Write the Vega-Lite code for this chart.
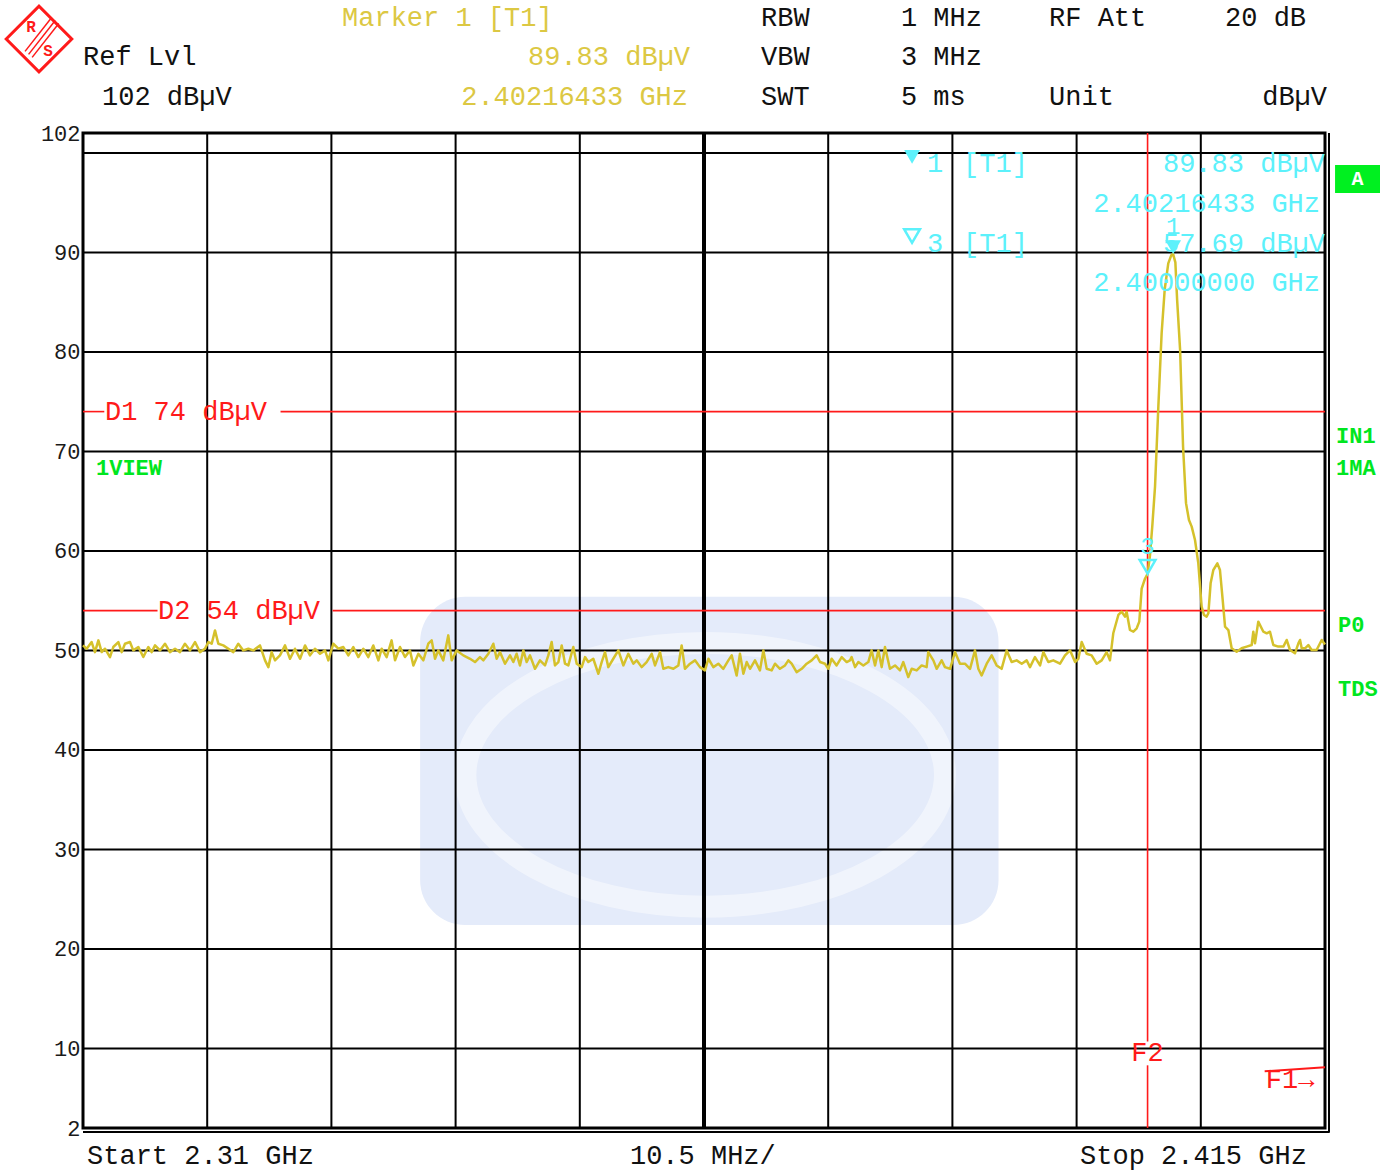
{
  "$schema": "https://vega.github.io/schema/vega-lite/v6.json",
  "width": 1242,
  "height": 995,
  "autosize": "none",
  "padding": {"left": 83, "top": 133, "right": 71, "bottom": 43},
  "background": "white",
  "config": {"view": {"stroke": null}, "text": {"font": "Liberation Mono"}},
  "datasets": {
    "trace": [
      {"f": 2310.0, "level": 50.5}, {"f": 2310.31, "level": 50.17}, {"f": 2310.73, "level": 50.84}, {"f": 2311.01, "level": 49.83},
      {"f": 2311.3, "level": 51.01}, {"f": 2311.58, "level": 49.83}, {"f": 2311.86, "level": 50.17}, {"f": 2312.28, "level": 49.33},
      {"f": 2312.56, "level": 50.34}, {"f": 2312.99, "level": 50.84}, {"f": 2313.27, "level": 49.83}, {"f": 2313.55, "level": 50.67},
      {"f": 2313.97, "level": 50.84}, {"f": 2314.25, "level": 50.0}, {"f": 2314.68, "level": 50.34}, {"f": 2315.1, "level": 49.33},
      {"f": 2315.52, "level": 50.34}, {"f": 2315.8, "level": 49.83}, {"f": 2316.09, "level": 50.5}, {"f": 2316.51, "level": 50.0},
      {"f": 2316.93, "level": 50.67}, {"f": 2317.35, "level": 49.83}, {"f": 2317.78, "level": 50.17}, {"f": 2318.2, "level": 49.83},
      {"f": 2318.62, "level": 50.67}, {"f": 2319.05, "level": 50.0}, {"f": 2319.47, "level": 50.84}, {"f": 2319.89, "level": 49.83},
      {"f": 2320.31, "level": 50.17}, {"f": 2320.6, "level": 50.84}, {"f": 2320.88, "level": 50.67}, {"f": 2321.16, "level": 52.01},
      {"f": 2321.44, "level": 50.67}, {"f": 2321.86, "level": 50.5}, {"f": 2322.29, "level": 50.17}, {"f": 2322.71, "level": 49.83},
      {"f": 2323.13, "level": 50.67}, {"f": 2323.55, "level": 50.0}, {"f": 2323.98, "level": 50.17}, {"f": 2324.4, "level": 50.0},
      {"f": 2324.96, "level": 50.5}, {"f": 2325.39, "level": 49.0}, {"f": 2325.67, "level": 48.32}, {"f": 2325.95, "level": 49.83},
      {"f": 2326.23, "level": 49.0}, {"f": 2326.65, "level": 49.5}, {"f": 2327.08, "level": 50.5}, {"f": 2327.5, "level": 49.16},
      {"f": 2327.92, "level": 50.17}, {"f": 2328.35, "level": 49.16}, {"f": 2328.77, "level": 50.5}, {"f": 2329.19, "level": 49.5},
      {"f": 2329.61, "level": 50.17}, {"f": 2330.04, "level": 49.66}, {"f": 2330.46, "level": 50.0}, {"f": 2330.74, "level": 49.0},
      {"f": 2331.16, "level": 50.67}, {"f": 2331.59, "level": 50.17}, {"f": 2332.01, "level": 50.34}, {"f": 2332.43, "level": 49.5},
      {"f": 2332.85, "level": 50.34}, {"f": 2333.28, "level": 49.33}, {"f": 2333.7, "level": 50.17}, {"f": 2334.12, "level": 49.33},
      {"f": 2334.54, "level": 50.5}, {"f": 2334.97, "level": 49.0}, {"f": 2335.25, "level": 50.17}, {"f": 2335.67, "level": 49.33},
      {"f": 2336.09, "level": 51.01}, {"f": 2336.38, "level": 49.0}, {"f": 2336.8, "level": 50.34}, {"f": 2337.22, "level": 49.33},
      {"f": 2337.64, "level": 50.0}, {"f": 2337.93, "level": 48.49}, {"f": 2338.35, "level": 49.66}, {"f": 2338.77, "level": 49.0},
      {"f": 2339.19, "level": 50.67}, {"f": 2339.48, "level": 51.01}, {"f": 2339.76, "level": 49.16}, {"f": 2340.04, "level": 50.0},
      {"f": 2340.46, "level": 49.0}, {"f": 2340.88, "level": 51.51}, {"f": 2341.17, "level": 49.0}, {"f": 2341.59, "level": 50.0},
      {"f": 2342.15, "level": 49.5}, {"f": 2342.72, "level": 49.16}, {"f": 2343.14, "level": 48.83}, {"f": 2343.56, "level": 49.33},
      {"f": 2343.85, "level": 49.0}, {"f": 2344.27, "level": 49.66}, {"f": 2344.69, "level": 50.67}, {"f": 2344.97, "level": 49.16},
      {"f": 2345.25, "level": 49.83}, {"f": 2345.68, "level": 48.66}, {"f": 2346.1, "level": 49.5}, {"f": 2346.38, "level": 48.83},
      {"f": 2346.66, "level": 49.66}, {"f": 2346.94, "level": 48.49}, {"f": 2347.23, "level": 50.0}, {"f": 2347.51, "level": 48.83},
      {"f": 2347.79, "level": 49.5}, {"f": 2348.21, "level": 48.15}, {"f": 2348.63, "level": 49.0}, {"f": 2349.06, "level": 48.49},
      {"f": 2349.34, "level": 49.5}, {"f": 2349.62, "level": 50.84}, {"f": 2349.9, "level": 48.49}, {"f": 2350.19, "level": 48.83},
      {"f": 2350.47, "level": 50.5}, {"f": 2350.75, "level": 48.66}, {"f": 2351.03, "level": 48.49}, {"f": 2351.45, "level": 50.34},
      {"f": 2351.74, "level": 48.66}, {"f": 2352.16, "level": 48.32}, {"f": 2352.44, "level": 49.33}, {"f": 2352.72, "level": 48.83},
      {"f": 2353.14, "level": 49.16}, {"f": 2353.57, "level": 47.65}, {"f": 2353.85, "level": 48.83}, {"f": 2354.13, "level": 49.83},
      {"f": 2354.41, "level": 48.32}, {"f": 2354.83, "level": 49.16}, {"f": 2355.26, "level": 50.0}, {"f": 2355.68, "level": 48.49},
      {"f": 2356.1, "level": 49.66}, {"f": 2356.53, "level": 48.66}, {"f": 2356.81, "level": 49.0}, {"f": 2357.23, "level": 48.32},
      {"f": 2357.65, "level": 48.83}, {"f": 2358.08, "level": 49.66}, {"f": 2358.36, "level": 48.49}, {"f": 2358.78, "level": 49.83},
      {"f": 2359.06, "level": 48.15}, {"f": 2359.48, "level": 48.32}, {"f": 2359.91, "level": 48.15}, {"f": 2360.33, "level": 48.49},
      {"f": 2360.61, "level": 50.5}, {"f": 2360.89, "level": 48.15}, {"f": 2361.32, "level": 48.66}, {"f": 2361.74, "level": 49.0},
      {"f": 2362.16, "level": 48.32}, {"f": 2362.58, "level": 47.99}, {"f": 2362.87, "level": 49.16}, {"f": 2363.29, "level": 48.32},
      {"f": 2363.71, "level": 48.66}, {"f": 2364.13, "level": 48.15}, {"f": 2364.56, "level": 49.0}, {"f": 2364.84, "level": 49.5},
      {"f": 2365.26, "level": 47.48}, {"f": 2365.54, "level": 49.66}, {"f": 2365.83, "level": 47.65}, {"f": 2366.11, "level": 48.83},
      {"f": 2366.39, "level": 48.15}, {"f": 2366.81, "level": 49.0}, {"f": 2367.23, "level": 47.99}, {"f": 2367.52, "level": 50.0},
      {"f": 2367.8, "level": 48.15}, {"f": 2368.22, "level": 47.99}, {"f": 2368.5, "level": 48.66}, {"f": 2368.92, "level": 48.15},
      {"f": 2369.35, "level": 48.49}, {"f": 2369.63, "level": 49.0}, {"f": 2369.91, "level": 48.66}, {"f": 2370.33, "level": 47.82},
      {"f": 2370.76, "level": 48.15}, {"f": 2371.18, "level": 48.66}, {"f": 2371.6, "level": 49.0}, {"f": 2372.02, "level": 49.5},
      {"f": 2372.31, "level": 48.83}, {"f": 2372.73, "level": 48.66}, {"f": 2373.01, "level": 48.15}, {"f": 2373.29, "level": 49.16},
      {"f": 2373.71, "level": 48.49}, {"f": 2374.14, "level": 49.33}, {"f": 2374.56, "level": 48.83}, {"f": 2374.84, "level": 49.0},
      {"f": 2374.98, "level": 49.33}, {"f": 2375.27, "level": 48.32}, {"f": 2375.55, "level": 48.83}, {"f": 2375.97, "level": 48.49},
      {"f": 2376.39, "level": 48.83}, {"f": 2376.67, "level": 50.0}, {"f": 2376.96, "level": 48.49}, {"f": 2377.24, "level": 50.0},
      {"f": 2377.52, "level": 48.32}, {"f": 2377.8, "level": 50.34}, {"f": 2378.22, "level": 48.15}, {"f": 2378.65, "level": 48.49},
      {"f": 2379.07, "level": 47.99}, {"f": 2379.35, "level": 48.83}, {"f": 2379.77, "level": 47.32}, {"f": 2380.06, "level": 48.15},
      {"f": 2380.48, "level": 47.99}, {"f": 2380.9, "level": 48.49}, {"f": 2381.32, "level": 48.32}, {"f": 2381.46, "level": 49.83},
      {"f": 2381.89, "level": 49.0}, {"f": 2382.17, "level": 48.15}, {"f": 2382.59, "level": 49.0}, {"f": 2382.87, "level": 48.32},
      {"f": 2383.3, "level": 48.15}, {"f": 2383.72, "level": 49.83}, {"f": 2384.14, "level": 48.66}, {"f": 2384.56, "level": 48.66},
      {"f": 2384.99, "level": 48.15}, {"f": 2385.41, "level": 50.0}, {"f": 2385.69, "level": 48.15}, {"f": 2385.97, "level": 47.48},
      {"f": 2386.4, "level": 48.66}, {"f": 2386.82, "level": 49.5}, {"f": 2387.24, "level": 48.49}, {"f": 2387.66, "level": 48.15},
      {"f": 2388.09, "level": 50.0}, {"f": 2388.51, "level": 48.83}, {"f": 2388.93, "level": 49.0}, {"f": 2389.36, "level": 48.66},
      {"f": 2389.78, "level": 49.0}, {"f": 2390.06, "level": 48.32}, {"f": 2390.48, "level": 49.33}, {"f": 2390.91, "level": 48.49},
      {"f": 2391.19, "level": 49.83}, {"f": 2391.61, "level": 48.83}, {"f": 2392.03, "level": 49.0}, {"f": 2392.6, "level": 48.66},
      {"f": 2393.02, "level": 49.5}, {"f": 2393.45, "level": 50.0}, {"f": 2393.87, "level": 48.83}, {"f": 2394.15, "level": 49.16},
      {"f": 2394.43, "level": 50.84}, {"f": 2394.85, "level": 49.66}, {"f": 2395.27, "level": 49.5}, {"f": 2395.7, "level": 48.66},
      {"f": 2396.12, "level": 49.0}, {"f": 2396.54, "level": 49.83}, {"f": 2396.82, "level": 49.0}, {"f": 2397.1, "level": 51.72},
      {"f": 2397.53, "level": 53.56}, {"f": 2397.81, "level": 53.89}, {"f": 2398.09, "level": 53.39}, {"f": 2398.23, "level": 53.89},
      {"f": 2398.51, "level": 52.05}, {"f": 2398.8, "level": 51.88}, {"f": 2399.08, "level": 52.22}, {"f": 2399.3, "level": 52.89},
      {"f": 2399.5, "level": 56.2}, {"f": 2399.78, "level": 57.2}, {"f": 2400.0, "level": 57.69}, {"f": 2400.2, "level": 59.5},
      {"f": 2400.4, "level": 62.5}, {"f": 2400.63, "level": 66.46}, {"f": 2400.91, "level": 74.5}, {"f": 2401.19, "level": 81.9},
      {"f": 2401.45, "level": 86.3}, {"f": 2401.75, "level": 88.9}, {"f": 2402.0, "level": 89.7}, {"f": 2402.16, "level": 89.83},
      {"f": 2402.35, "level": 89.0}, {"f": 2402.5, "level": 85.2}, {"f": 2402.75, "level": 80.2}, {"f": 2403.0, "level": 70.5},
      {"f": 2403.25, "level": 64.8}, {"f": 2403.5, "level": 63.1}, {"f": 2403.73, "level": 62.44}, {"f": 2404.01, "level": 61.1},
      {"f": 2404.29, "level": 58.75}, {"f": 2404.57, "level": 54.4}, {"f": 2404.77, "level": 53.56}, {"f": 2404.99, "level": 53.39},
      {"f": 2405.14, "level": 53.73}, {"f": 2405.33, "level": 56.74}, {"f": 2405.56, "level": 58.08}, {"f": 2405.9, "level": 58.75},
      {"f": 2406.12, "level": 58.08}, {"f": 2406.35, "level": 55.07}, {"f": 2406.55, "level": 52.39}, {"f": 2406.83, "level": 52.05},
      {"f": 2407.11, "level": 50.21}, {"f": 2407.53, "level": 49.87}, {"f": 2407.95, "level": 50.21}, {"f": 2408.38, "level": 50.38},
      {"f": 2408.8, "level": 50.54}, {"f": 2408.94, "level": 51.88}, {"f": 2409.08, "level": 50.71}, {"f": 2409.36, "level": 52.89},
      {"f": 2409.79, "level": 51.88}, {"f": 2410.07, "level": 51.72}, {"f": 2410.35, "level": 51.88}, {"f": 2410.63, "level": 50.54},
      {"f": 2411.05, "level": 50.38}, {"f": 2411.48, "level": 50.38}, {"f": 2411.76, "level": 51.05}, {"f": 2412.04, "level": 50.04},
      {"f": 2412.46, "level": 49.71}, {"f": 2412.75, "level": 50.71}, {"f": 2412.89, "level": 51.05}, {"f": 2413.03, "level": 50.21},
      {"f": 2413.31, "level": 50.21}, {"f": 2413.59, "level": 50.54}, {"f": 2413.87, "level": 50.04}, {"f": 2414.29, "level": 50.04},
      {"f": 2414.72, "level": 51.05}, {"f": 2415.0, "level": 50.6}
    ]
  },
  "encoding": {
    "x": {"field": "f", "type": "quantitative", "scale": {"domain": [2310, 2415], "nice": false, "zero": false}, "axis": null},
    "y": {
      "field": "level", "type": "quantitative",
      "scale": {"domain": [2, 102], "nice": false, "zero": false},
      "axis": {
        "values": [2, 10, 20, 30, 40, 50, 60, 70, 80, 90, 102],
        "grid": false, "domain": false, "ticks": false, "title": null,
        "labelFont": "Liberation Mono", "labelFontSize": 22, "labelColor": "#1a1a1a",
        "labelPadding": 3, "labelFlush": false, "labelOverlap": false
      }
    }
  },
  "layer": [
    {
      "data": {"values": [{"f": 2338.5, "f2": 2387.4, "level": 55.4, "level2": 22.4}]},
      "mark": {"type": "rect", "fill": "#e4ebfa", "cornerRadius": 45},
      "encoding": {"x2": {"field": "f2"}, "y2": {"field": "level2"}}
    },
    {
      "data": {"values": [{"f": 2362.6, "level": 37.5}]},
      "mark": {
        "type": "point",
        "shape": "M -1 0 A 1 0.55 0 1 0 1 0 A 1 0.55 0 1 0 -1 0 Z",
        "size": 230000, "filled": false, "stroke": "white", "strokeWidth": 22, "opacity": 0.45
      }
    },
    {
      "data": {"values": [
        {"f": 2310, "f2": 2415, "level": 10}, {"f": 2310, "f2": 2415, "level": 20}, {"f": 2310, "f2": 2415, "level": 30},
        {"f": 2310, "f2": 2415, "level": 40}, {"f": 2310, "f2": 2415, "level": 50}, {"f": 2310, "f2": 2415, "level": 60},
        {"f": 2310, "f2": 2415, "level": 70}, {"f": 2310, "f2": 2415, "level": 80}, {"f": 2310, "f2": 2415, "level": 90},
        {"f": 2310, "f2": 2415, "level": 100}
      ]},
      "mark": {"type": "rule", "color": "#000", "strokeWidth": 2},
      "encoding": {"x2": {"field": "f2"}}
    },
    {
      "data": {"values": [
        {"f": 2320.5, "level": 2, "level2": 102}, {"f": 2331, "level": 2, "level2": 102},
        {"f": 2341.5, "level": 2, "level2": 102}, {"f": 2352, "level": 2, "level2": 102},
        {"f": 2373, "level": 2, "level2": 102}, {"f": 2383.5, "level": 2, "level2": 102},
        {"f": 2394, "level": 2, "level2": 102}, {"f": 2404.5, "level": 2, "level2": 102}
      ]},
      "mark": {"type": "rule", "color": "#000", "strokeWidth": 2},
      "encoding": {"y2": {"field": "level2"}}
    },
    {
      "data": {"values": [{"f": 2362.5, "level": 2, "level2": 102}]},
      "mark": {"type": "rule", "color": "#000", "strokeWidth": 4},
      "encoding": {"y2": {"field": "level2"}}
    },
    {
      "data": {"values": [{"f": 2310, "f2": 2415, "level": 2, "level2": 102}]},
      "mark": {"type": "rect", "filled": false, "stroke": "#000", "strokeWidth": 3},
      "encoding": {"x2": {"field": "f2"}, "y2": {"field": "level2"}}
    },
    {
      "data": {"values": [{"f": 2415, "level": 1.6, "level2": 102}]},
      "mark": {"type": "rule", "color": "#000", "strokeWidth": 2, "xOffset": 4},
      "encoding": {"y2": {"field": "level2"}}
    },
    {
      "data": {"values": [{"f": 2310, "f2": 2415.4, "level": 2}]},
      "mark": {"type": "rule", "color": "#000", "strokeWidth": 2, "yOffset": 4},
      "encoding": {"x2": {"field": "f2"}}
    },
    {
      "data": {"values": [
        {"f": 2310, "f2": 2311.8, "level": 74}, {"f": 2326.7, "f2": 2415, "level": 74},
        {"f": 2310, "f2": 2316.3, "level": 54}, {"f": 2331.1, "f2": 2415, "level": 54}
      ]},
      "mark": {"type": "rule", "color": "#ff1a1a", "strokeWidth": 1.6},
      "encoding": {"x2": {"field": "f2"}}
    },
    {
      "data": {"values": [{"f": 2400, "level": 2, "level2": 8.3}, {"f": 2400, "level": 10.7, "level2": 102}]},
      "mark": {"type": "rule", "color": "#ff1a1a", "strokeWidth": 1.6},
      "encoding": {"y2": {"field": "level2"}}
    },
    {
      "data": {"values": [{"f": 2409.9, "f2": 2415, "level": 7.7, "level2": 8.1}]},
      "mark": {"type": "rule", "color": "#ff1a1a", "strokeWidth": 2},
      "encoding": {"x2": {"field": "f2"}, "y2": {"field": "level2"}}
    },
    {
      "data": {"values": [
        {"f": 2311.86, "level": 74, "label": "D1 74 dBµV"},
        {"f": 2316.34, "level": 54, "label": "D2 54 dBµV"},
        {"f": 2410.0, "level": 6.8, "label": "F1→"}
      ]},
      "mark": {"type": "text", "color": "#ff1a1a", "fontSize": 27, "align": "left", "baseline": "middle"},
      "encoding": {"text": {"field": "label"}}
    },
    {
      "data": {"values": [{"f": 2400, "level": 9.5, "label": "F2"}]},
      "mark": {"type": "text", "color": "#ff1a1a", "fontSize": 27, "align": "center", "baseline": "middle"},
      "encoding": {"text": {"field": "label"}}
    },
    {
      "data": {"name": "trace"},
      "mark": {"type": "line", "color": "#d5c12b", "strokeWidth": 2.5, "strokeJoin": "round"}
    },
    {
      "data": {"values": [{"f": 2402.16433, "level": 89.83}]},
      "mark": {"type": "point", "shape": "triangle-down", "filled": true, "size": 250, "color": "#5cf1fb", "opacity": 1, "yOffset": -7}
    },
    {
      "data": {"values": [{"f": 2400.0, "level": 57.69}]},
      "mark": {"type": "point", "shape": "triangle-down", "filled": false, "size": 250, "color": "#5cf1fb", "strokeWidth": 2.5, "opacity": 1, "yOffset": -7}
    },
    {
      "data": {"values": [{"f": 2402.16433, "level": 89.83, "label": "1"}, {"f": 2400.0, "level": 57.69, "label": "3"}]},
      "mark": {"type": "text", "color": "#5cf1fb", "fontSize": 24, "align": "center", "baseline": "middle", "dy": -27},
      "encoding": {"text": {"field": "label"}}
    },
    {
      "data": {"values": [{"f": 2380.09, "level": 99.6}]},
      "mark": {"type": "point", "shape": "triangle-down", "filled": true, "size": 250, "color": "#5cf1fb", "opacity": 1}
    },
    {
      "data": {"values": [{"f": 2380.09, "level": 91.65}]},
      "mark": {"type": "point", "shape": "triangle-down", "filled": false, "size": 250, "color": "#5cf1fb", "strokeWidth": 2.5, "opacity": 1}
    },
    {
      "data": {"values": [
        {"f": 2381.35, "level": 98.88, "label": "1"}, {"f": 2384.4, "level": 98.88, "label": "[T1]"},
        {"f": 2381.35, "level": 90.84, "label": "3"}, {"f": 2384.4, "level": 90.84, "label": "[T1]"}
      ]},
      "mark": {"type": "text", "color": "#5cf1fb", "fontSize": 27, "align": "left", "baseline": "middle"},
      "encoding": {"text": {"field": "label"}}
    },
    {
      "data": {"values": [
        {"f": 2415.0, "level": 98.88, "label": "89.83 dBµV"},
        {"f": 2414.58, "level": 94.86, "label": "2.40216433 GHz"},
        {"f": 2415.0, "level": 90.84, "label": "57.69 dBµV"},
        {"f": 2414.58, "level": 86.92, "label": "2.40000000 GHz"}
      ]},
      "mark": {"type": "text", "color": "#5cf1fb", "fontSize": 27, "align": "right", "baseline": "middle"},
      "encoding": {"text": {"field": "label"}}
    },
    {
      "data": {"values": [
        {"f": 2310.0, "level": 109.64, "label": "Ref Lvl"},
        {"f": 2311.61, "level": 105.62, "label": "102 dBµV"},
        {"f": 2367.32, "level": 113.56, "label": "RBW"},
        {"f": 2379.15, "level": 113.56, "label": "1 MHz"},
        {"f": 2391.67, "level": 113.56, "label": "RF Att"},
        {"f": 2406.55, "level": 113.56, "label": "20 dB"},
        {"f": 2367.32, "level": 109.64, "label": "VBW"},
        {"f": 2379.15, "level": 109.64, "label": "3 MHz"},
        {"f": 2367.32, "level": 105.62, "label": "SWT"},
        {"f": 2379.15, "level": 105.62, "label": "5 ms"},
        {"f": 2391.67, "level": 105.62, "label": "Unit"},
        {"f": 2310.34, "level": -0.85, "label": "Start 2.31 GHz"},
        {"f": 2356.24, "level": -0.85, "label": "10.5 MHz/"},
        {"f": 2394.29, "level": -0.85, "label": "Stop 2.415 GHz"}
      ]},
      "mark": {"type": "text", "color": "#111", "fontSize": 27, "align": "left", "baseline": "middle"},
      "encoding": {"text": {"field": "label"}}
    },
    {
      "data": {"values": [{"f": 2415.17, "level": 105.62, "label": "dBµV"}]},
      "mark": {"type": "text", "color": "#111", "fontSize": 27, "align": "right", "baseline": "middle"},
      "encoding": {"text": {"field": "label"}}
    },
    {
      "data": {"values": [{"f": 2331.9, "level": 113.56, "label": "Marker 1 [T1]"}]},
      "mark": {"type": "text", "color": "#dcc843", "fontSize": 27, "align": "left", "baseline": "middle"},
      "encoding": {"text": {"field": "label"}}
    },
    {
      "data": {"values": [
        {"f": 2361.32, "level": 109.64, "label": "89.83 dBµV"},
        {"f": 2361.15, "level": 105.62, "label": "2.40216433 GHz"}
      ]},
      "mark": {"type": "text", "color": "#dcc843", "fontSize": 27, "align": "right", "baseline": "middle"},
      "encoding": {"text": {"field": "label"}}
    },
    {
      "data": {"values": [{"f": 2415.85, "f2": 2419.65, "level": 98.78, "level2": 95.97}]},
      "mark": {"type": "rect", "fill": "#00f020"},
      "encoding": {"x2": {"field": "f2"}, "y2": {"field": "level2"}}
    },
    {
      "data": {"values": [{"f": 2417.75, "level": 97.38, "label": "A"}]},
      "mark": {"type": "text", "color": "white", "fontSize": 20, "fontWeight": "bold", "align": "center", "baseline": "middle"},
      "encoding": {"text": {"field": "label"}}
    },
    {
      "data": {"values": [
        {"f": 2415.93, "level": 71.55, "label": "IN1"},
        {"f": 2415.93, "level": 68.33, "label": "1MA"},
        {"f": 2416.1, "level": 52.55, "label": "P0"},
        {"f": 2416.1, "level": 46.12, "label": "TDS"},
        {"f": 2311.1, "level": 68.33, "label": "1VIEW"}
      ]},
      "mark": {"type": "text", "color": "#00e620", "fontSize": 22, "fontWeight": "bold", "align": "left", "baseline": "middle"},
      "encoding": {"text": {"field": "label"}}
    },
    {
      "data": {"values": [{"f": 2306.28, "level": 111.45}]},
      "mark": {"type": "point", "shape": "diamond", "size": 4300, "filled": false, "stroke": "#ff1a1a", "strokeWidth": 3, "opacity": 1}
    },
    {
      "data": {"values": [
        {"f": 2307.35, "f2": 2305.1, "level": 113.6, "level2": 110.2},
        {"f": 2307.65, "f2": 2305.4, "level": 113.3, "level2": 109.9},
        {"f": 2307.95, "f2": 2305.7, "level": 113.0, "level2": 109.6}
      ]},
      "mark": {"type": "rule", "color": "#ff1a1a", "strokeWidth": 1.5},
      "encoding": {"x2": {"field": "f2"}, "y2": {"field": "level2"}}
    },
    {
      "data": {"values": [{"f": 2305.6, "level": 112.7, "label": "R"}, {"f": 2307.05, "level": 110.2, "label": "S"}]},
      "mark": {"type": "text", "color": "#ff1a1a", "fontSize": 16, "fontWeight": "bold", "align": "center", "baseline": "middle"},
      "encoding": {"text": {"field": "label"}}
    }
  ]
}
